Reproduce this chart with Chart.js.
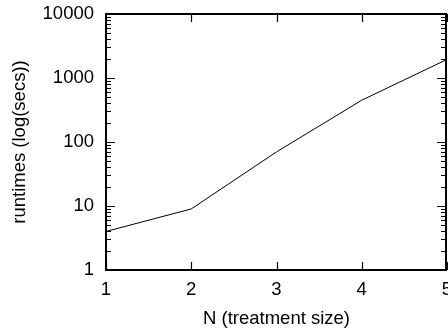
<!DOCTYPE html>
<html>
<head>
<meta charset="UTF-8">
<title>runtimes</title>
<script src="https://cdn.jsdelivr.net/npm/chart.js"></script>
<style>
  html, body { margin: 0; padding: 0; background: #fff; overflow: hidden; }
</style>
</head>
<body>
<canvas id="grafico" width="448" height="331"></canvas>
<script>
// dados
const tamanhos = [1, 2, 3, 4, 5];
const tempos = [4, 9, 70, 450, 1950];
const yMin = 1;
const yMax = 10000;

function ehPotencia(v) {
  const l = Math.log10(v);
  return Math.abs(l - Math.round(l)) < 1e-9;
}

// desenha a moldura e os tracinhos para dentro (estilo gnuplot)
const moldura = {
  id: 'moldura',
  afterDraw(chart) {
    const ctx = chart.ctx;
    const a = chart.chartArea;
    const x = chart.scales.x;
    const y = chart.scales.y;
    const esq = Math.round(a.left), dir = Math.round(a.right) - 1;
    const topo = Math.round(a.top), base = Math.round(a.bottom);
    ctx.save();
    ctx.strokeStyle = '#000';

    ctx.lineWidth = 1.2;
    ctx.beginPath();
    x.ticks.forEach(function (t) {
      const px = Math.round(x.getPixelForValue(t.value)) + 0.5;
      ctx.moveTo(px, base);
      ctx.lineTo(px, base - 8);
      ctx.moveTo(px, topo);
      ctx.lineTo(px, topo + 8);
    });
    y.ticks.forEach(function (t) {
      const len = ehPotencia(t.value) ? 9 : 5;
      const py = Math.round(y.getPixelForValue(t.value)) + 0.5;
      ctx.moveTo(esq, py);
      ctx.lineTo(esq + len, py);
      ctx.moveTo(dir, py);
      ctx.lineTo(dir - len, py);
    });
    ctx.stroke();

    ctx.lineWidth = 2;
    ctx.beginPath();
    ctx.rect(esq, topo, dir - esq, base - topo);
    ctx.stroke();
    ctx.restore();
  }
};

const fonte = { family: '"Liberation Sans", Arial, sans-serif', size: 18.5 };

new Chart(document.getElementById('grafico').getContext('2d'), {
  type: 'line',
  data: {
    labels: tamanhos,
    datasets: [{
      data: tempos,
      borderColor: '#000',
      borderWidth: 1,
      pointRadius: 0,
      tension: 0,
      fill: false
    }]
  },
  options: {
    responsive: false,
    animation: false,
    events: [],
    layout: { padding: { left: 0, top: 14, right: 1, bottom: 0 } },
    plugins: { legend: { display: false }, tooltip: { enabled: false } },
    scales: {
      x: {
        type: 'linear',
        min: 1,
        max: 5,
        grid: { display: false, drawTicks: false },
        border: { display: false },
        ticks: { stepSize: 1, color: '#000', font: fonte, padding: 9, maxRotation: 0 },
        title: { display: true, text: 'N (treatment size)', color: '#000', font: fonte, padding: { top: 0, bottom: 1 } },
        afterFit(scale) {
          scale.height = 61;
          scale.paddingLeft = 0;
          scale.paddingRight = 0;
        }
      },
      y: {
        type: 'logarithmic',
        min: yMin,
        max: yMax,
        grid: { display: false, drawTicks: false },
        border: { display: false },
        afterBuildTicks(scale) {
          // 1..9 em cada decada, so as potencias de 10 levam rotulo
          const ticks = [];
          for (let d = Math.round(Math.log10(yMin)); d < Math.round(Math.log10(yMax)); d++) {
            for (let m = 1; m < 10; m++) ticks.push({ value: m * Math.pow(10, d) });
          }
          ticks.push({ value: yMax });
          scale.ticks = ticks;
        },
        ticks: {
          autoSkip: false,
          color: '#000',
          font: fonte,
          padding: 12,
          callback: function (v) {
            return ehPotencia(v) ? String(v) : '';
          }
        },
        title: { display: true, text: 'runtimes (log(secs))', color: '#000', font: fonte, padding: { top: 9, bottom: 0 } },
        afterFit(scale) {
          scale.width = 106;
          scale.paddingTop = 0;
          scale.paddingBottom = 0;
        }
      }
    }
  },
  plugins: [moldura]
});
</script>
</body>
</html>
